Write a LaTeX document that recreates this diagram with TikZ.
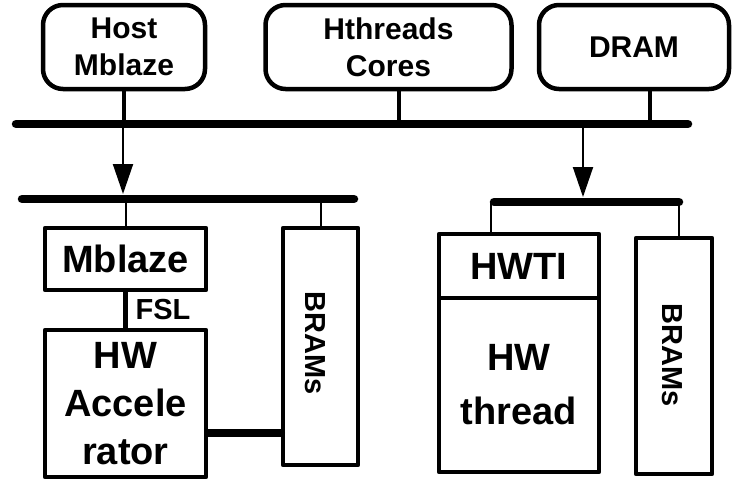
\documentclass[tikz,border=0pt]{standalone}
\usepackage{fontspec}
\setmainfont{Liberation Sans}
\usetikzlibrary{arrows.meta}
\begin{document}
\begin{tikzpicture}[x=1pt,y=-1pt,
  topbox/.style={draw, line width=4.5pt, rounded corners=20pt, align=center, inner sep=0pt,
                 font=\fontsize{30}{37}\selectfont\bfseries},
  lowbox/.style={draw, line width=4.5pt, line join=round, inner sep=0pt, align=center,
                 font=\fontsize{38}{48}\selectfont\bfseries},
  vlabel/.style={rotate=-90, font=\fontsize{29}{29}\selectfont\bfseries},
  bus/.style={line width=8.5pt, line cap=round},
  stub/.style={line width=2pt},
  link/.style={line width=4.5pt},
  arr/.style={line width=2pt, -{Triangle[width=20pt,length=30pt]}}]
\useasboundingbox (0,0) rectangle (734,482);

% top row
\node[topbox, minimum width=162pt, minimum height=84pt] (host) at (124,47) {Host\\Mblaze};
\node[topbox, minimum width=246pt, minimum height=84pt] (hth) at (388.5,47) {Hthreads\\Cores};
\node[topbox, minimum width=190pt, minimum height=84pt] (dram) at (634,47) {DRAM};

% top bus
\coordinate (tbL) at (16,124);
\coordinate (tbR) at (688,124);
\draw[bus] (tbL) -- (tbR);
\coordinate (hostc) at (host.south);
\coordinate (hthc) at ([xshift=10.5pt]hth.south);
\coordinate (dramc) at ([xshift=16pt]dram.south);
\draw[link] (hostc) -- (hostc |- tbL);
\draw[link] (hthc) -- (hthc |- tbL);
\draw[link] (dramc) -- (dramc |- tbL);

% arrows down
\coordinate (a1s) at (123,124);
\coordinate (a1e) at (123,194);
\coordinate (a2s) at (583,124);
\coordinate (a2e) at (583,197);
\draw[arr] (a1s) -- (a1e);
\draw[arr] (a2s) -- (a2e);

% lower buses
\coordinate (lbL) at (22,199);
\coordinate (lbR) at (354,199);
\coordinate (rbL) at (494,202);
\coordinate (rbR) at (679,202);
\draw[bus] (lbL) -- (lbR);
\draw[bus] (rbL) -- (rbR);

% left group
\node[lowbox, minimum width=161pt, minimum height=62pt] (mb) at (125.5,259) {Mblaze};
\node[lowbox, minimum width=161pt, minimum height=147pt] (acc) at (125.5,403.5) {HW\\Accele\\rator};
\node[lowbox, minimum width=75pt, minimum height=237pt] (bramL) at (320.5,346.5) {};
\node[vlabel] (bramLt) at ([xshift=-5.5pt,yshift=3.5pt]bramL.center) {BRAMs};

\draw[stub] (mb.north) -- (mb.north |- lbL);
\draw[stub] (bramL.north) -- (bramL.north |- lbL);
\draw[line width=5pt] (mb.south) -- (acc.north);
\node[font=\fontsize{29}{29}\selectfont\bfseries] (fsl) at (163,310) {FSL};
\coordinate (ab) at (206,433);
\draw[bus] (acc.east |- ab) -- (bramL.west |- ab);

% right group
\node[lowbox, minimum width=160pt, minimum height=64pt] (hwti) at (519,266) {HWTI};
\node[lowbox, minimum width=160pt, minimum height=174pt, font=\fontsize{38}{54}\selectfont\bfseries] (hwt) at (519,385) {HW\\thread};
\node[lowbox, minimum width=76pt, minimum height=236pt] (bramR) at (674,356) {};
\node[vlabel] (bramRt) at ([xshift=-2pt,yshift=1pt]bramR.center) {BRAMs};

\coordinate (hwtic) at ([xshift=-28pt]hwti.north);
\coordinate (bramRc) at ([xshift=5pt]bramR.north);
\draw[stub] (hwtic) -- (hwtic |- rbL);
\draw[stub] (bramRc) -- (bramRc |- rbL);
\end{tikzpicture}
\end{document}
